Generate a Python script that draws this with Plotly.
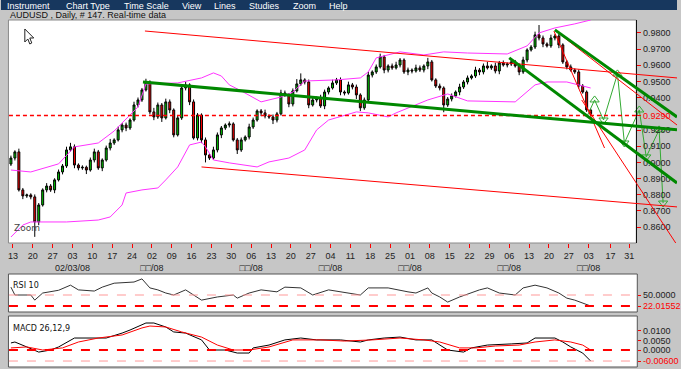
import plotly.graph_objects as go

# ---------------- data ----------------
closes = [
    0.9027, 0.9065, 0.8830, 0.8793, 0.8799, 0.8787, 0.8632, 0.8737, 0.8830, 0.8854,
    0.8830, 0.8892, 0.8941, 0.8978, 0.9077, 0.9096, 0.8984, 0.8966, 0.8970, 0.8953,
    0.9015, 0.9065, 0.8966, 0.9015, 0.9089, 0.9120, 0.9139, 0.9201, 0.9231, 0.9213,
    0.9262, 0.9355, 0.9386, 0.9448, 0.9497, 0.9312, 0.9281, 0.9355, 0.9275, 0.9374,
    0.9324, 0.9170, 0.9275, 0.9460, 0.9479, 0.9374, 0.9151, 0.9293, 0.9139, 0.9046,
    0.9027, 0.9077, 0.9170, 0.9213, 0.9231, 0.9238, 0.9139, 0.9077, 0.9139, 0.9157,
    0.9219, 0.9262, 0.9318, 0.9306, 0.9287, 0.9281, 0.9262, 0.9300, 0.9429, 0.9417,
    0.9361, 0.9442, 0.9485, 0.9510, 0.9497, 0.9355, 0.9386, 0.9398, 0.9349, 0.9435,
    0.9460, 0.9491, 0.9510, 0.9435, 0.9429, 0.9479, 0.9466, 0.9417, 0.9337, 0.9386,
    0.9540, 0.9559, 0.9590, 0.9652, 0.9571, 0.9596, 0.9584, 0.9602, 0.9633, 0.9559,
    0.9571, 0.9565, 0.9584, 0.9571, 0.9596, 0.9621, 0.9510, 0.9472, 0.9460, 0.9355,
    0.9392, 0.9411, 0.9435, 0.9466, 0.9497, 0.9522, 0.9534, 0.9571, 0.9559, 0.9596,
    0.9584, 0.9596, 0.9565, 0.9615, 0.9602, 0.9608, 0.9621, 0.9596, 0.9559, 0.9633,
    0.9695, 0.9713, 0.9788, 0.9769, 0.9732, 0.9720, 0.9769, 0.9781, 0.9726, 0.9621,
    0.9590, 0.9571, 0.9559, 0.9472, 0.9435, 0.9324, 0.9300,
]
first_open = 0.8990
upper_wick_pips = [
    15, 10, 20, 12, 8, 10, 15, 12, 10, 18, 12, 10, 15, 12, 20, 25, 15, 10, 12, 10, 15, 20, 12, 10, 15, 25, 10, 20, 12, 15,
    10, 20, 15, 12, 20, 10, 25, 15, 12, 20, 15, 10, 12, 15, 20, 10, 15, 12, 10, 15,
    10, 20, 15, 12, 10, 15, 10, 12, 15, 10, 20, 15, 10, 12, 20, 10, 15, 12, 20, 15,
    10, 15, 30, 40, 10, 15, 12, 10, 20, 15, 10, 20, 12, 15, 10, 20, 12, 15, 10, 15,
    20, 10, 15, 20, 12, 10, 15, 20, 12, 10, 15, 10, 20, 15, 10, 25, 12, 10, 15, 10,
    12, 15, 10, 20, 12, 15, 10, 20, 12, 15, 25, 10, 20, 12, 15, 10, 20, 12, 15, 20,
    10, 12, 20, 61, 15, 10, 20, 12, 15, 10, 12, 15, 10, 15, 12, 10, 8,
]
lower_wick_pips = [
    12, 15, 10, 20, 12, 15, 92, 20, 10, 15, 12, 20, 10, 15, 12, 10, 20, 15, 12, 25, 10, 15, 12, 20, 10, 15, 12, 10, 15, 20,
    12, 10, 15, 12, 10, 15, 20, 12, 25, 10, 20, 15, 10, 12, 15, 20, 10, 15, 20, 46,
    12, 10, 15, 20, 12, 15, 10, 25, 12, 10, 15, 12, 10, 20, 15, 12, 25, 15, 10, 12,
    20, 15, 10, 12, 15, 20, 10, 15, 12, 20, 15, 10, 12, 20, 15, 10, 15, 25, 20, 12,
    10, 15, 12, 10, 20, 15, 12, 10, 15, 12, 20, 15, 10, 12, 15, 20, 10, 12, 15, 45,
    12, 15, 10, 20, 12, 15, 10, 12, 20, 15, 10, 12, 15, 20, 10, 15, 12, 10, 20, 12,
    15, 10, 12, 15, 20, 10, 12, 15, 20, 12, 15, 10, 12, 15, 10, 12, 8,
]

band_up_bar = [0, 5, 12, 16, 22, 26, 32, 34, 42, 48, 51, 53, 55, 58, 63, 68, 71, 74, 82, 88,
               90, 92, 98, 104, 109, 115, 125, 130, 133, 137, 142, 146]
band_up = [0.8953, 0.8941, 0.8991, 0.9096, 0.9120, 0.9194, 0.9343, 0.9485, 0.9491, 0.9522,
           0.9553, 0.9534, 0.9479, 0.9442, 0.9374, 0.9404, 0.9435, 0.9503, 0.9510, 0.9522,
           0.9559, 0.9646, 0.9683, 0.9664, 0.9683, 0.9676, 0.9670, 0.9720, 0.9800, 0.9831,
           0.9856, 0.9880]
band_lo_bar = [0, 3, 5, 14, 22, 25, 28, 29, 33, 37, 39, 42, 45, 48, 49, 51, 55, 62, 65, 70,
               74, 77, 80, 87, 90, 95, 97, 105, 110, 115, 127, 132, 135, 140, 146]
band_lo = [0.8539, 0.8613, 0.8632, 0.8632, 0.8644, 0.8663, 0.8737, 0.8811, 0.8830, 0.8842,
           0.8892, 0.8972, 0.9108, 0.9126, 0.9096, 0.9015, 0.8997, 0.8972, 0.9003, 0.9027,
           0.9077, 0.9201, 0.9262, 0.9312, 0.9306, 0.9281, 0.9306, 0.9386, 0.9423, 0.9380,
           0.9374, 0.9479, 0.9497, 0.9497, 0.9460]

# drawn trend lines: (bar0, price0, bar1, price1)
red_lines = [
    (33.75, 0.9812, 167.75, 0.9522),
    (48.0, 0.8972, 167.75, 0.8725),
    (136.75, 0.9812, 149.5, 0.9089),
    (137.5, 0.9806, 167.75, 0.9231),
    (143.75, 0.9386, 167.75, 0.8490),
]
green_lines = [
    (33.25, 0.9497, 167.75, 0.9201),
    (125.5, 0.9646, 167.75, 0.8873),
    (137.0, 0.9819, 167.75, 0.9281),
]
proj_bar = [145.25, 147, 149.25, 152.75, 154.5, 158.25, 160, 163.25, 164.25]
proj_price = [0.9293, 0.9386, 0.9262, 0.9547, 0.9120, 0.9324, 0.9034, 0.9201, 0.8749]
proj_head = ["none", "up", "down", "up", "down", "up", "down", "up", "down"]
level_price = 0.9290

price_ticks = [0.98, 0.97, 0.96, 0.95, 0.94, 0.929, 0.92, 0.91, 0.90, 0.89, 0.88, 0.87, 0.86]
price_tick_text = ["0.9800", "0.9700", "0.9600", "0.9500", "0.9400",
                   "<span style='color:#ff0000'>0.9290</span>", "0.9200", "0.9100",
                   "0.9000", "0.8900", "0.8800", "0.8700", "0.8600"]

day_ticks = [0.5, 5.5, 10.5, 15.5, 20.5, 25.5, 30.5, 35.5, 40.5, 45.5, 50.5, 55.5, 60.5, 65.5,
             70.5, 75.5, 80.5, 85.5, 90.5, 95.5, 100.5, 105.5, 110.5, 115.5, 120.5, 125.5,
             130.5, 135.5, 140.5, 145.5, 151, 155.75]
day_labels = ["13", "20", "27", "03", "10", "17", "24", "02", "09", "16", "23", "30", "06", "13",
              "20", "27", "04", "11", "18", "25", "01", "08", "15", "22", "29", "06", "13", "20",
              "27", "03", "17", "31"]
month_labels = {3: "02/03/08", 7: "□□/08", 12: "□□/08", 16: "□□/08",
                20: "□□/08", 25: "□□/08", 29: "□□/08"}

rsi_bar = [0, 1, 5, 6, 8, 12, 15, 17, 21, 23, 26, 31, 33, 35, 37, 39, 41, 44, 48, 52, 56, 57,
           60, 63, 67, 69, 73, 76, 80, 85, 88, 90, 95, 100, 102, 105, 106, 108, 110, 113, 118,
           120, 123, 127, 129, 132, 135, 138, 140, 142, 145, 146]
rsi = [70, 50, 50, 37, 55, 62, 75, 63, 60, 70, 80, 83, 91, 68, 63, 55, 50, 63, 37, 45, 50, 42,
       55, 63, 58, 70, 68, 50, 63, 55, 50, 68, 68, 58, 55, 68, 55, 45, 32, 45, 63,
       68, 55, 50, 68, 75, 68, 55, 42, 37, 25, 22.0155]
rsi_levels = [50.0, 22.0155]

macd_bar = [0, 1, 4, 7, 10, 12, 16, 19, 24, 28, 30, 34, 36, 39, 41, 44, 48, 50, 54, 57, 60, 61,
            65, 69, 73, 77, 83, 88, 90, 94, 98, 102, 106, 110, 114, 116, 120, 126, 130, 132,
            137, 139, 141, 144, 146]
macd = [0.0037, 0.0042, 0.0016, -0.0011, 0.0, 0.0016, 0.0063, 0.0063, 0.0063, 0.0089, 0.0105,
        0.0142, 0.0142, 0.0121, 0.0095, 0.0089, 0.0053, 0.0, 0.0, -0.0016, -0.0016, 0.0011,
        0.0026, 0.0053, 0.0063, 0.0053, 0.0053, 0.0042, 0.0053, 0.0063, 0.0068, 0.0053,
        0.0053, 0.0, -0.0011, 0.0011, 0.0026, 0.0032, 0.0037, 0.0063, 0.0063, 0.0042,
        0.0016, -0.0016, -0.0058]
signal_bar = [0, 4, 8, 13, 17, 22, 28, 33, 35, 39, 43, 48, 52, 56, 60, 65, 71, 78, 84, 91, 98,
              104, 108, 113, 117, 122, 128, 132, 137, 141, 144, 146]
signal = [0.0011, 0.0016, 0.0, 0.0011, 0.0042, 0.0063, 0.0079, 0.0116, 0.0126, 0.0121, 0.0095,
          0.0068, 0.0026, 0.0, 0.0, 0.0016, 0.0053, 0.0053, 0.0047, 0.0053, 0.0063, 0.0053,
          0.0042, 0.0011, 0.0011, 0.0021, 0.0026, 0.0042, 0.0053, 0.0042, 0.0026, 0.0]
macd_ticks = [0.01, 0.005, 0.0, -0.0058]
macd_tick_text = ["0.0100", "0.0050", "0.0000", "<span style='color:#ff0000'>-0.00600</span>"]

# ---------------- derived candle fields ----------------
bars = list(range(len(closes)))
opens = [first_open] + closes[:-1]
highs = [max(o, c) + u * 0.0001 for o, c, u in zip(opens, closes, upper_wick_pips)]
lows = [min(o, c) - d * 0.0001 for o, c, d in zip(opens, closes, lower_wick_pips)]

# ---------------- layout helpers (pixel -> paper) ----------------
W, H = 681, 369
def px(x):
    return x / W
def py(y):
    return 1 - y / H

FONT = "DejaVu Sans"
BG = "#c6c6c6"
X_RANGE = [-0.5, 167.75]

fig = go.Figure()

# Bollinger bands
fig.add_trace(go.Scatter(x=band_up_bar, y=band_up, mode="lines",
                         line=dict(color="#ff33ff", width=1), xaxis="x", yaxis="y"))
fig.add_trace(go.Scatter(x=band_lo_bar, y=band_lo, mode="lines",
                         line=dict(color="#ff33ff", width=1), xaxis="x", yaxis="y"))

# candles
fig.add_trace(go.Candlestick(
    x=bars, open=opens, high=highs, low=lows, close=closes,
    increasing=dict(fillcolor="#00cc00", line=dict(color="#000000", width=1)),
    decreasing=dict(fillcolor="#ff0000", line=dict(color="#000000", width=1)),
    whiskerwidth=0, xaxis="x", yaxis="y", hoverinfo="skip"))

# projection zig-zag
fig.add_trace(go.Scatter(x=proj_bar, y=proj_price, mode="lines",
                         line=dict(color="#33aa33", width=1), xaxis="x", yaxis="y"))
head_sym = {"up": "triangle-up-open", "down": "triangle-down-open"}
hx = [b for b, h in zip(proj_bar, proj_head) if h != "none"]
hy = [p for p, h in zip(proj_price, proj_head) if h != "none"]
hs = [head_sym[h] for h in proj_head if h != "none"]
fig.add_trace(go.Scatter(x=hx, y=hy, mode="markers",
                         marker=dict(symbol=hs, size=8, color="#33aa33", line=dict(width=1)),
                         xaxis="x", yaxis="y"))

# RSI
fig.add_trace(go.Scatter(x=rsi_bar, y=rsi, mode="lines",
                         line=dict(color="#333333", width=1), xaxis="x2", yaxis="y2"))
# MACD
fig.add_trace(go.Scatter(x=macd_bar, y=macd, mode="lines",
                         line=dict(color="#000000", width=1), xaxis="x3", yaxis="y3"))
fig.add_trace(go.Scatter(x=signal_bar, y=signal, mode="lines",
                         line=dict(color="#ff0000", width=1), xaxis="x3", yaxis="y3"))

shapes = []
# menu bar
shapes.append(dict(type="rect", xref="paper", yref="paper", x0=0, x1=1, y0=py(10), y1=1,
                   fillcolor="#17375e", line=dict(width=0), layer="below"))
# panels
shapes.append(dict(type="rect", xref="paper", yref="paper", x0=px(7.5), x1=px(640), y0=py(243), y1=py(20),
                   fillcolor="white", line=dict(color="#8a8a8a", width=1), layer="below"))
shapes.append(dict(type="rect", xref="paper", yref="paper", x0=px(7.5), x1=px(641), y0=py(312), y1=py(274),
                   fillcolor="white", line=dict(color="#555555", width=1), layer="below"))
shapes.append(dict(type="rect", xref="paper", yref="paper", x0=px(7.5), x1=px(641), y0=py(367), y1=py(316),
                   fillcolor="white", line=dict(color="#555555", width=1), layer="below"))
# level line
shapes.append(dict(type="line", xref="paper", yref="y", x0=px(8), x1=px(640), y0=level_price, y1=level_price,
                   line=dict(color="#ff0000", width=1.5, dash="4px,3px")))
# RSI levels
shapes.append(dict(type="line", xref="paper", yref="y2", x0=px(8), x1=px(641), y0=rsi_levels[0], y1=rsi_levels[0],
                   line=dict(color="#ff9999", width=1, dash="dash")))
shapes.append(dict(type="line", xref="paper", yref="y2", x0=px(8), x1=px(641), y0=rsi_levels[1], y1=rsi_levels[1],
                   line=dict(color="#ff0000", width=2, dash="dash")))
# MACD levels
shapes.append(dict(type="line", xref="paper", yref="y3", x0=px(8), x1=px(641), y0=0, y1=0,
                   line=dict(color="#ff0000", width=2, dash="dash")))
shapes.append(dict(type="line", xref="paper", yref="y3", x0=px(8), x1=px(641), y0=macd_ticks[3], y1=macd_ticks[3],
                   line=dict(color="#ff9999", width=1, dash="dash")))
# trend lines
for b0, p0, b1, p1 in red_lines:
    shapes.append(dict(type="line", xref="x", yref="y", x0=b0, y0=p0, x1=b1, y1=p1,
                       line=dict(color="#ff0000", width=1)))
for b0, p0, b1, p1 in green_lines:
    shapes.append(dict(type="line", xref="x", yref="y", x0=b0, y0=p0, x1=b1, y1=p1,
                       line=dict(color="#008800", width=3)))
# mouse cursor
cur = [(24, 29), (24, 42), (27, 39), (29, 44), (31, 43), (29, 38), (33, 38)]
path = "M " + " L ".join(f"{px(a):.5f},{py(b):.5f}" for a, b in cur) + " Z"
shapes.append(dict(type="path", xref="paper", yref="paper", path=path,
                   fillcolor="white", line=dict(color="#222222", width=1)))

annotations = []
menu = [("Instrument", 4), ("Chart Type", 63), ("Time Scale", 122), ("View", 180), ("Lines", 213),
        ("Studies", 248), ("Zoom", 292), ("Help", 328)]
for txt, x in menu:
    annotations.append(dict(text=txt, xref="paper", yref="paper", x=px(x), y=py(5.5), xanchor="left",
                            yanchor="middle", showarrow=False,
                            font=dict(family="Liberation Sans", size=9, color="white")))
annotations.append(dict(text="AUDUSD , Daily, # 147. Real-time data", xref="paper", yref="paper",
                        x=px(7), y=py(15), xanchor="left", yanchor="middle", showarrow=False,
                        font=dict(family="Liberation Sans", size=9, color="#111111")))
annotations.append(dict(text="Zoom", xref="paper", yref="paper", x=px(11), y=py(228), xanchor="left",
                        yanchor="middle", showarrow=False, font=dict(family=FONT, size=9, color="#444444")))
annotations.append(dict(text="RSI 10", xref="paper", yref="paper", x=px(10), y=py(285), xanchor="left",
                        yanchor="middle", showarrow=False, font=dict(family=FONT, size=8, color="#111111")))
annotations.append(dict(text="MACD 26,12,9", xref="paper", yref="paper", x=px(10), y=py(328), xanchor="left",
                        yanchor="middle", showarrow=False, font=dict(family=FONT, size=8, color="#111111")))

tick_text = [d + ("<br>" + month_labels[i] if i in month_labels else "") for i, d in enumerate(day_labels)]

axis_common = dict(showgrid=False, zeroline=False)
LBL = dict(family="Liberation Sans", size=9, color="#222222")
fig.update_layout(
    width=W, height=H, margin=dict(l=0, r=0, t=0, b=0),
    paper_bgcolor=BG, plot_bgcolor="rgba(0,0,0,0)", showlegend=False,
    font=dict(family=FONT, size=8, color="#222222"),
    shapes=shapes, annotations=annotations,
    xaxis=dict(domain=[px(8), 1], range=X_RANGE, anchor="y", tickvals=day_ticks, ticktext=tick_text,
               tickangle=0, ticks="outside", ticklen=4, tickcolor="#ff0000", showline=False,
               rangeslider=dict(visible=False), tickfont=LBL, **axis_common),
    yaxis=dict(domain=[py(243), py(20)], range=[0.8502, 0.9880], side="right", anchor="free",
               position=px(640), tickvals=price_ticks, ticktext=price_tick_text, ticks="outside",
               ticklen=4, tickcolor="#ff0000", showline=True, linecolor="#111111", linewidth=1,
               tickfont=LBL, **axis_common),
    xaxis2=dict(domain=[px(8), 1], range=X_RANGE, anchor="y2", visible=False, **axis_common),
    yaxis2=dict(domain=[py(312), py(274)], range=[6.75, 103.4], side="right", anchor="free",
                position=px(641), tickvals=rsi_levels,
                ticktext=["50.0000", "<span style='color:#ff0000'>22.01552</span>"],
                ticks="outside", ticklen=3, tickcolor="#ff0000", showline=False,
                tickfont=LBL, **axis_common),
    xaxis3=dict(domain=[px(8), 1], range=X_RANGE, anchor="y3", visible=False, **axis_common),
    yaxis3=dict(domain=[py(367), py(316)], range=[-0.00894, 0.01788], side="right", anchor="free",
                position=px(641), tickvals=macd_ticks, ticktext=macd_tick_text,
                ticks="outside", ticklen=3, tickcolor="#ff0000", showline=False,
                tickfont=LBL, **axis_common),
)

fig.write_html("out.html", config={"displayModeBar": False},
               post_script="document.body.style.margin='0px';document.body.style.overflow='hidden';")
